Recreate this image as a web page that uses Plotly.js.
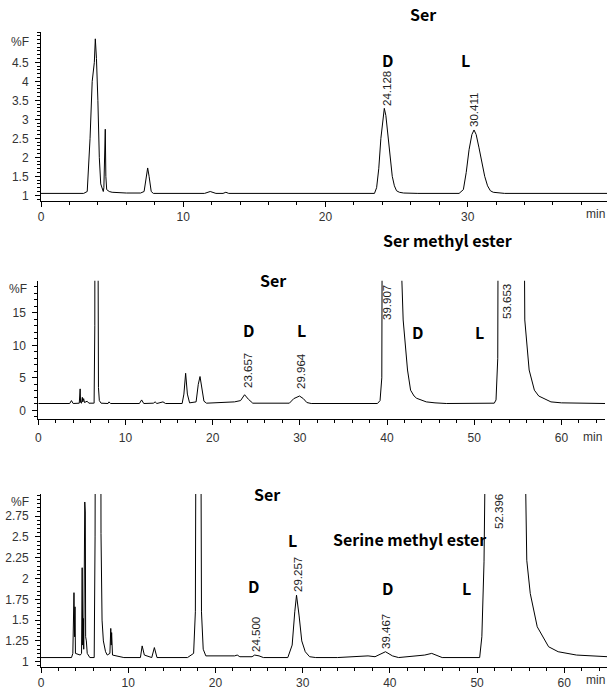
<!DOCTYPE html>
<html>
<head>
<meta charset="utf-8">
<script src="https://cdn.plot.ly/plotly-3.0.1.min.js"></script>
<style>html,body{margin:0;padding:0;background:#fff}#chart{width:614px;height:690px}</style>
</head>
<body>
<div id="chart"></div>
<script>
// ---------- DATA ----------
// Panel 1: Ser (D/L), time (min) vs %F
const time1 = [0, 3.0, 3.25, 3.45, 3.6, 3.75, 3.82, 3.9, 4.0, 4.1, 4.2, 4.3, 4.38, 4.42, 4.48, 4.52, 4.56, 4.62, 4.8, 5.0, 6.0, 7.0, 7.25, 7.4, 7.5, 7.6, 7.75, 7.9, 11.5, 11.9, 12.3, 12.8, 13.0, 13.2, 23.45, 23.6, 23.75, 23.9, 24.05, 24.14, 24.25, 24.4, 24.55, 24.7, 24.85, 25.0, 25.2, 25.5, 26.5, 29.4, 29.7, 29.9, 30.1, 30.3, 30.45, 30.6, 30.8, 31.0, 31.2, 31.4, 31.6, 31.8, 32.5, 32.6, 39.8];
const signal1 = [1.05, 1.05, 1.1, 2.5, 4.0, 4.5, 5.12, 4.6, 3.5, 2.0, 1.3, 1.15, 1.1, 1.2, 2.2, 2.74, 1.5, 1.15, 1.1, 1.08, 1.06, 1.06, 1.1, 1.5, 1.72, 1.5, 1.1, 1.05, 1.05, 1.1, 1.05, 1.05, 1.08, 1.05, 1.05, 1.2, 1.7, 2.5, 3.1, 3.29, 3.1, 2.6, 2.0, 1.5, 1.25, 1.12, 1.08, 1.06, 1.05, 1.05, 1.15, 1.6, 2.2, 2.6, 2.72, 2.6, 2.25, 1.85, 1.5, 1.25, 1.12, 1.08, 1.07, 1.05, 1.05];

// Panel 2: Ser + Ser methyl ester
const time2 = [0, 3.6, 3.8, 4.0, 4.7, 4.8, 4.85, 4.95, 5.05, 5.1, 5.2, 5.3, 5.6, 5.8, 6.3, 6.4, 6.48, 6.52, 6.78, 6.82, 6.9, 7.0, 7.2, 8.0, 8.1, 8.3, 11.6, 11.85, 12.1, 13.2, 13.4, 13.6, 14.0, 14.3, 14.6, 16.5, 16.7, 16.9, 17.1, 17.35, 18.1, 18.35, 18.55, 18.75, 19.0, 19.3, 21.5, 22.5, 23.2, 23.66, 24.1, 24.6, 28.8, 29.3, 29.96, 30.4, 30.8, 31.3, 38.9, 39.2, 39.4, 39.5, 41.6, 41.7, 41.85, 42.35, 42.7, 43.1, 43.4, 44.5, 45.5, 46.8, 52.3, 52.5, 52.7, 52.8, 55.6, 55.7, 55.8, 56.3, 56.9, 57.4, 57.9, 58.8, 60.0, 61.6, 61.7, 65];
const signal2 = [1.05, 1.05, 1.5, 1.05, 1.1, 3.3, 1.2, 1.1, 2.0, 1.3, 1.8, 1.2, 1.4, 1.1, 1.1, 1.1, 13, 60, 60, 5.0, 3.5, 1.5, 1.1, 1.05, 1.3, 1.05, 1.05, 1.6, 1.05, 1.1, 1.3, 1.05, 1.2, 1.3, 1.05, 1.05, 2.5, 5.7, 2.5, 1.15, 1.3, 4.0, 5.2, 3.5, 1.4, 1.1, 1.2, 1.3, 1.5, 2.4, 1.7, 1.1, 1.1, 1.8, 2.2, 1.8, 1.2, 1.05, 1.05, 1.5, 5, 60, 60, 20, 13.9, 6.2, 3.1, 2.2, 1.85, 1.3, 1.15, 1.05, 1.1, 1.6, 8, 60, 60, 20, 13.9, 6.2, 3.1, 2.2, 1.85, 1.3, 1.15, 1.1, 1.05, 1.05];

// Panel 3: Ser + Serine methyl ester
const time3 = [0, 3.5, 3.65, 3.78, 3.85, 3.9, 3.95, 4.5, 4.65, 4.72, 4.78, 4.85, 4.9, 5.02, 5.08, 5.12, 5.2, 5.3, 5.6, 6.1, 6.2, 6.25, 6.85, 6.88, 6.92, 7.0, 7.15, 7.4, 7.6, 7.9, 8.0, 8.05, 8.1, 8.2, 9.5, 11.4, 11.6, 11.85, 12.7, 13.0, 13.3, 16.8, 17.5, 17.7, 17.8, 18.3, 18.4, 18.6, 18.9, 22.2, 22.5, 22.8, 24.2, 24.5, 25.0, 25.5, 28.3, 28.8, 29.1, 29.3, 29.6, 29.9, 30.3, 30.8, 31.5, 34, 37.5, 38.3, 39.5, 40.3, 41, 44, 44.8, 45.5, 46, 50.3, 50.55, 50.8, 50.9, 51.1, 55.3, 55.7, 56.1, 56.9, 58.2, 59.3, 61.4, 65];
const signal3 = [1.05, 1.05, 1.1, 1.83, 1.3, 1.66, 1.1, 1.08, 1.1, 2.13, 1.2, 1.52, 1.15, 2.92, 2.8, 1.3, 1.25, 1.1, 1.05, 1.05, 2.5, 5, 5, 2.54, 1.9, 1.5, 1.25, 1.12, 1.08, 1.1, 1.4, 1.2, 1.35, 1.08, 1.05, 1.05, 1.19, 1.08, 1.05, 1.17, 1.05, 1.05, 1.1, 1.6, 5, 5, 1.6, 1.15, 1.07, 1.07, 1.08, 1.06, 1.06, 1.08, 1.07, 1.05, 1.05, 1.2, 1.6, 1.8, 1.55, 1.25, 1.12, 1.06, 1.05, 1.05, 1.07, 1.06, 1.12, 1.07, 1.05, 1.08, 1.1, 1.07, 1.05, 1.05, 1.3, 2.2, 2.7, 5, 5, 2.22, 1.82, 1.42, 1.18, 1.12, 1.08, 1.06];

// Tick labels
const xTicks1 = [0, 10, 20, 30];
const xTicks23 = [0, 10, 20, 30, 40, 50, 60];
const yTicks1 = [1, 1.5, 2, 2.5, 3, 3.5, 4, 4.5];
const yTickText1 = ['1', '1.5', '2', '2.5', '3', '3.5', '4', '4.5'];
const yTicks2 = [0, 5, 10, 15];
const yTicks3 = [1, 1.25, 1.5, 1.75, 2, 2.25, 2.5, 2.75];
const yTickText3 = ['1', '1.25', '1.5', '1.75', '2', '2.25', '2.5', '2.75'];

// Text labels
const rt1 = ['24.128', '30.411'];
const rt2 = ['23.657', '29.964', '39.907', '53.653'];
const rt3 = ['24.500', '29.257', '39.467', '52.396'];
const titles = ['Ser', 'Ser', 'Ser methyl ester', 'Ser', 'Serine methyl ester'];

// ---------- LAYOUT ----------
const W = 614, H = 690;
const fx = x => x / W, fy = y => 1 - y / H;
const tickFont = {family: 'Liberation Sans, Arial, sans-serif', size: 12, color: '#333'};
const boldFont = {family: 'Noto Sans CJK KR, Noto Sans, sans-serif', size: 16, color: '#000', weight: 'bold'};

function xax(domain, range, tickvals, anchor, standoff) {
  return {domain: domain, range: range, anchor: anchor, showline: true, linecolor: '#000', linewidth: 1,
    showgrid: false, zeroline: false, ticks: 'outside', ticklen: 5, tickcolor: '#000', tickwidth: 1,
    tickmode: 'array', tickvals: tickvals, ticktext: tickvals.map(String), tickfont: tickFont,
    ticklabelstandoff: standoff || 0,
    minor: {dtick: 2, tick0: 0, ticks: 'outside', ticklen: 3, tickcolor: '#000', showgrid: false}, fixedrange: true};
}
function yax(domain, range, tickvals, ticktext, minorDt, anchor) {
  return {domain: domain, range: range, anchor: anchor, showline: true, linecolor: '#000', linewidth: 1,
    showgrid: false, zeroline: false, ticks: 'outside', ticklen: 5, tickcolor: '#000', tickwidth: 1,
    tickmode: 'array', tickvals: tickvals, ticktext: ticktext, tickfont: tickFont, ticklabelstandoff: 4,
    minor: {dtick: minorDt, tick0: 0, ticks: 'outside', ticklen: 3, tickcolor: '#000', showgrid: false}, fixedrange: true};
}

const traces = [
  {x: time1, y: signal1, xaxis: 'x', yaxis: 'y', type: 'scatter', mode: 'lines', line: {color: '#000', width: 1}, hoverinfo: 'skip'},
  {x: time2, y: signal2, xaxis: 'x2', yaxis: 'y2', type: 'scatter', mode: 'lines', line: {color: '#000', width: 1}, hoverinfo: 'skip'},
  {x: time3, y: signal3, xaxis: 'x3', yaxis: 'y3', type: 'scatter', mode: 'lines', line: {color: '#000', width: 1}, hoverinfo: 'skip'}
];

function txt(text, x, y, font, angle) {
  return {text: text, x: fx(x), y: fy(y), xref: 'paper', yref: 'paper', showarrow: false,
    xanchor: 'center', yanchor: 'middle', font: font, textangle: angle || 0};
}
const rtFont = {family: 'Liberation Sans, Arial, sans-serif', size: 11.5, color: '#222'};
const annotations = [
  // panel 1
  txt(titles[0], 423, 14, boldFont), txt('D', 388, 60, boldFont), txt('L', 465, 60, boldFont),
  txt(rt1[0], 387, 88, rtFont, -90), txt(rt1[1], 474, 110, rtFont, -90),
  txt('%F', 20, 42, tickFont), txt('min', 595, 214, tickFont),
  // panel 2
  txt(titles[2], 447, 240, boldFont), txt(titles[1], 273, 280, boldFont),
  txt('D', 248, 330, boldFont), txt('L', 301, 330, boldFont), txt('D', 417, 332, boldFont), txt('L', 479, 332, boldFont),
  txt(rt2[0], 248, 371, rtFont, -90), txt(rt2[1], 301, 371, rtFont, -90),
  txt(rt2[2], 387, 302, rtFont, -90), txt(rt2[3], 507, 302, rtFont, -90),
  txt('%F', 18, 289, tickFont), txt('min', 592, 437, tickFont),
  // panel 3
  txt(titles[3], 267, 494, boldFont), txt('L', 292, 540, boldFont), txt('D', 253, 586, boldFont),
  txt(titles[4], 409, 539, boldFont), txt('D', 388, 588, boldFont), txt('L', 466, 588, boldFont),
  txt(rt3[0], 256, 635, rtFont, -90), txt(rt3[1], 298, 575, rtFont, -90),
  txt(rt3[2], 386, 631, rtFont, -90), txt(rt3[3], 499, 512, rtFont, -90),
  txt('%F', 20, 502, tickFont), txt('min', 595, 680, tickFont)
];

const layout = {
  width: W, height: H, margin: {l: 0, r: 0, t: 0, b: 0}, paper_bgcolor: '#fff', plot_bgcolor: '#fff',
  showlegend: false,
  xaxis: xax([fx(41), fx(607)], [0, 39.8], xTicks1, 'y', 0),
  yaxis: yax([fy(201), fy(32)], [0.85, 5.3], yTicks1, yTickText1, 0.1, 'x'),
  xaxis2: xax([fx(38.3), fx(605)], [0, 65], xTicks23, 'y2', 2),
  yaxis2: yax([fy(419.3), fy(280.7)], [-1.38, 19.94], yTicks2, yTicks2.map(String), 1, 'x2'),
  xaxis3: xax([fx(41), fx(607)], [0, 64.9], xTicks23, 'y3', 0),
  yaxis3: yax([fy(666.7), fy(494)], [0.94, 3.016], yTicks3, yTickText3, 0.05, 'x3'),
  annotations: annotations
};

Plotly.newPlot('chart', traces, layout, {staticPlot: true, displayModeBar: false});
</script>
</body>
</html>
